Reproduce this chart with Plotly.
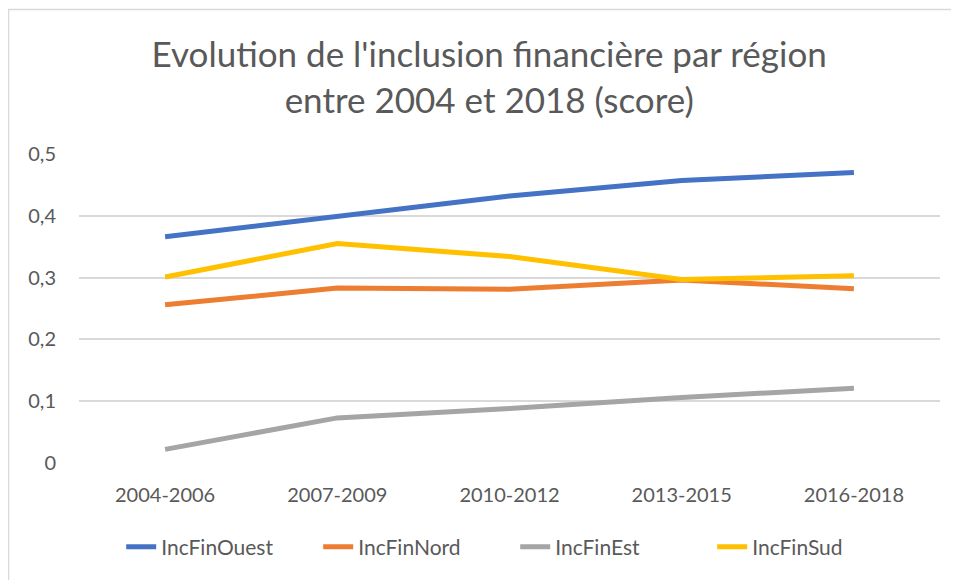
import plotly.graph_objects as go

periodes = ['2004-2006', '2007-2009', '2010-2012', '2013-2015', '2016-2018']
inc_ouest = [0.366, 0.398, 0.432, 0.457, 0.470]
inc_nord = [0.256, 0.283, 0.281, 0.296, 0.282]
inc_est = [0.022, 0.073, 0.088, 0.106, 0.121]
inc_sud = [0.301, 0.355, 0.334, 0.297, 0.303]

series = [
    ('IncFinOuest', inc_ouest, '#4472C4'),
    ('IncFinNord', inc_nord, '#ED7D31'),
    ('IncFinEst', inc_est, '#A5A5A5'),
    ('IncFinSud', inc_sud, '#FFC000'),
]

fig = go.Figure()
for nom, vals, couleur in series:
    fig.add_trace(go.Scatter(
        x=periodes, y=vals, mode='lines', name=nom,
        line=dict(color=couleur, width=5)
    ))

# la page ajoute une marge de 8px autour de la figure
fig.update_layout(
    title=dict(
        text="Evolution de l'inclusion financière par région<br>entre 2004 et 2018 (score)",
        x=0.506, xanchor='center', y=0.896, yanchor='middle', yref='container',
        font=dict(family='Lato', size=35, color='#595959')
    ),
    width=951, height=572,
    paper_bgcolor='white', plot_bgcolor='white',
    font=dict(family='Lato', size=20, color='#595959'),
    separators=', ',
    margin=dict(l=71, r=19, t=146, b=117),
    showlegend=True,
    legend=dict(
        orientation='h', x=0.049, xanchor='left',
        y=-0.272, yanchor='middle',
        font=dict(size=21, color='#595959'), entrywidth=152
    ),
)
fig.update_xaxes(
    type='category', range=[-0.5, 4.5], showgrid=False, showline=False,
    ticks='', ticklabelstandoff=18, zeroline=False
)
fig.update_yaxes(
    range=[0, 0.5], dtick=0.1, showgrid=True, gridcolor='#d9d9d9', gridwidth=1.5,
    zeroline=False, showline=False, ticks='', ticklabelstandoff=22
)

# cadre du graphique
fig.add_shape(type='rect', xref='paper', yref='paper',
              x0=-0.0819, x1=1.03, y0=-0.4, y1=1.4676,
              line=dict(color='#d9d9d9', width=1.5), layer='below')

fig.write_html("out.html")
